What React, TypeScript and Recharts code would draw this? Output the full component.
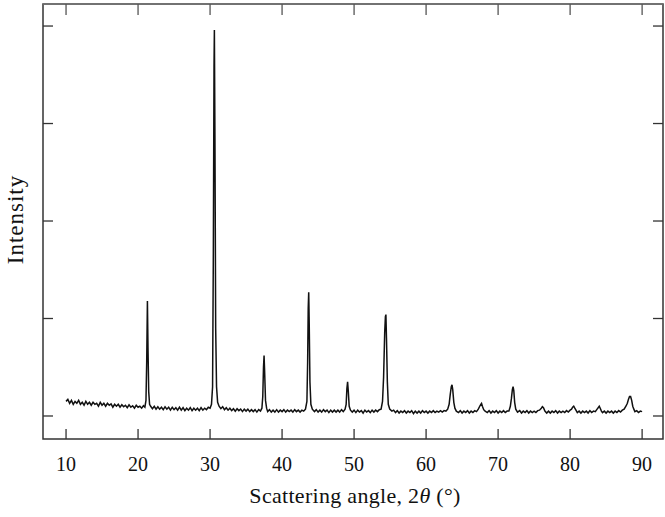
import { Label, Line, LineChart, ReferenceArea, ReferenceLine, XAxis, YAxis } from "recharts";

// XRD scan: [2θ in degrees, intensity in tick units]
const pattern: [number, number][] = [
  [10.0, 0.15], [10.25, 0.17], [10.5, 0.13], [10.75, 0.16], [11.0, 0.12], [11.25, 0.15], [11.5, 0.13], [11.75, 0.16],
  [12.0, 0.12], [12.25, 0.14], [12.5, 0.11], [12.75, 0.15], [13.0, 0.12], [13.25, 0.14], [13.5, 0.11], [13.75, 0.14],
  [14.0, 0.12], [14.25, 0.13], [14.5, 0.1], [14.75, 0.14], [15.0, 0.11], [15.25, 0.13], [15.5, 0.1], [15.75, 0.13],
  [16.0, 0.11], [16.25, 0.125], [16.5, 0.09], [16.75, 0.12], [17.0, 0.1], [17.25, 0.12], [17.5, 0.09], [17.75, 0.115],
  [18.0, 0.095], [18.25, 0.11], [18.5, 0.085], [18.75, 0.115], [19.0, 0.09], [19.25, 0.105], [19.5, 0.08], [19.75, 0.11],
  [20.0, 0.09], [20.25, 0.1], [20.5, 0.08], [20.75, 0.105],
  [20.95, 0.09], [21.1, 0.16], [21.2, 0.55], [21.3, 1.18], [21.38, 0.7], [21.48, 0.25], [21.6, 0.12], [21.75, 0.1],
  [22.0, 0.075], [22.25, 0.1], [22.5, 0.07], [22.75, 0.095], [23.0, 0.07], [23.25, 0.09], [23.5, 0.065], [23.75, 0.095],
  [24.0, 0.07], [24.25, 0.09], [24.5, 0.06], [24.75, 0.09], [25.0, 0.065], [25.25, 0.085], [25.5, 0.06], [25.75, 0.09],
  [26.0, 0.06], [26.25, 0.085], [26.5, 0.055], [26.75, 0.08], [27.0, 0.06], [27.25, 0.085], [27.5, 0.055], [27.75, 0.08],
  [28.0, 0.06], [28.25, 0.08], [28.5, 0.055], [28.75, 0.085], [29.0, 0.06], [29.25, 0.08], [29.5, 0.065], [29.75, 0.09],
  [30.0, 0.08], [30.2, 0.12],
  [30.35, 0.3], [30.45, 1.6], [30.55, 3.6], [30.6, 3.96], [30.68, 2.8], [30.78, 0.9], [30.9, 0.3], [31.05, 0.14], [31.25, 0.1],
  [31.5, 0.075], [31.75, 0.095], [32.0, 0.065], [32.25, 0.085], [32.5, 0.06], [32.75, 0.08], [33.0, 0.055], [33.25, 0.075],
  [33.5, 0.05], [33.75, 0.075], [34.0, 0.055], [34.25, 0.07], [34.5, 0.045], [34.75, 0.07], [35.0, 0.05], [35.25, 0.07],
  [35.5, 0.045], [35.75, 0.065], [36.0, 0.045], [36.25, 0.065], [36.5, 0.04], [36.75, 0.065], [37.0, 0.05], [37.2, 0.08],
  [37.32, 0.2], [37.42, 0.5], [37.5, 0.62], [37.58, 0.45], [37.7, 0.16], [37.85, 0.08],
  [38.0, 0.045], [38.25, 0.065], [38.5, 0.04], [38.75, 0.06], [39.0, 0.04], [39.25, 0.065], [39.5, 0.04], [39.75, 0.06],
  [40.0, 0.045], [40.25, 0.065], [40.5, 0.04], [40.75, 0.06], [41.0, 0.045], [41.25, 0.06], [41.5, 0.04], [41.75, 0.065],
  [42.0, 0.045], [42.25, 0.06], [42.5, 0.04], [42.75, 0.06], [43.0, 0.05], [43.25, 0.07], [43.45, 0.15],
  [43.55, 0.55], [43.63, 1.1], [43.7, 1.27], [43.77, 0.95], [43.87, 0.35], [44.0, 0.12], [44.2, 0.07],
  [44.5, 0.045], [44.75, 0.065], [45.0, 0.04], [45.25, 0.06], [45.5, 0.04], [45.75, 0.065], [46.0, 0.045], [46.25, 0.06],
  [46.5, 0.035], [46.75, 0.06], [47.0, 0.04], [47.25, 0.06], [47.5, 0.04], [47.75, 0.06], [48.0, 0.04], [48.25, 0.065],
  [48.5, 0.045], [48.75, 0.07],
  [48.9, 0.12], [49.0, 0.28], [49.1, 0.35], [49.2, 0.25], [49.32, 0.1], [49.5, 0.06],
  [49.75, 0.04], [50.0, 0.06], [50.25, 0.035], [50.5, 0.06], [50.75, 0.04], [51.0, 0.055], [51.25, 0.03], [51.5, 0.06],
  [51.75, 0.04], [52.0, 0.055], [52.25, 0.035], [52.5, 0.06], [52.75, 0.04], [53.0, 0.06], [53.25, 0.045], [53.5, 0.065],
  [53.75, 0.07], [53.95, 0.15],
  [54.1, 0.4], [54.25, 0.85], [54.35, 1.02], [54.42, 1.04], [54.5, 0.8], [54.62, 0.35], [54.75, 0.12], [54.95, 0.07],
  [55.25, 0.05], [55.5, 0.06], [55.75, 0.035], [56.0, 0.055], [56.25, 0.03], [56.5, 0.05], [56.75, 0.035], [57.0, 0.055],
  [57.25, 0.03], [57.5, 0.05], [57.75, 0.035], [58.0, 0.055], [58.25, 0.025], [58.5, 0.05], [58.75, 0.03], [59.0, 0.05],
  [59.25, 0.03], [59.5, 0.055], [59.75, 0.035], [60.0, 0.05], [60.25, 0.03], [60.5, 0.05], [60.75, 0.035], [61.0, 0.055],
  [61.25, 0.035], [61.5, 0.05], [61.75, 0.04], [62.0, 0.055], [62.25, 0.04], [62.5, 0.055], [62.75, 0.05], [63.0, 0.07],
  [63.2, 0.12],
  [63.35, 0.22], [63.5, 0.3], [63.6, 0.32], [63.7, 0.27], [63.85, 0.14], [64.0, 0.08], [64.2, 0.05],
  [64.5, 0.035], [64.75, 0.055], [65.0, 0.03], [65.25, 0.05], [65.5, 0.035], [65.75, 0.055], [66.0, 0.03], [66.25, 0.05],
  [66.5, 0.035], [66.75, 0.055], [67.0, 0.045], [67.25, 0.07], [67.45, 0.1],
  [67.6, 0.12], [67.7, 0.13], [67.82, 0.1], [68.0, 0.065], [68.2, 0.05],
  [68.5, 0.035], [68.75, 0.055], [69.0, 0.03], [69.25, 0.05], [69.5, 0.035], [69.75, 0.055], [70.0, 0.03], [70.25, 0.05],
  [70.5, 0.035], [70.75, 0.055], [71.0, 0.035], [71.25, 0.05], [71.5, 0.05], [71.7, 0.1],
  [71.85, 0.18], [71.98, 0.27], [72.08, 0.3], [72.18, 0.26], [72.3, 0.14], [72.45, 0.07],
  [72.7, 0.04], [73.0, 0.055], [73.25, 0.03], [73.5, 0.05], [73.75, 0.035], [74.0, 0.055], [74.25, 0.03], [74.5, 0.05],
  [74.75, 0.035], [75.0, 0.05], [75.25, 0.035], [75.5, 0.055], [75.75, 0.06],
  [76.0, 0.08], [76.15, 0.095], [76.3, 0.085], [76.5, 0.05],
  [76.75, 0.03], [77.0, 0.05], [77.25, 0.03], [77.5, 0.05], [77.75, 0.035], [78.0, 0.055], [78.25, 0.03], [78.5, 0.05],
  [78.75, 0.035], [79.0, 0.05], [79.25, 0.035], [79.5, 0.055], [79.75, 0.04], [80.0, 0.06], [80.2, 0.07],
  [80.35, 0.09], [80.5, 0.1], [80.65, 0.08], [80.85, 0.055],
  [81.0, 0.035], [81.25, 0.05], [81.5, 0.03], [81.75, 0.05], [82.0, 0.035], [82.25, 0.05], [82.5, 0.03], [82.75, 0.055],
  [83.0, 0.035], [83.25, 0.05], [83.5, 0.045], [83.75, 0.07],
  [83.95, 0.09], [84.05, 0.1], [84.18, 0.08], [84.35, 0.05],
  [84.5, 0.035], [84.75, 0.05], [85.0, 0.03], [85.25, 0.05], [85.5, 0.035], [85.75, 0.05], [86.0, 0.03], [86.25, 0.05],
  [86.5, 0.035], [86.75, 0.055], [87.0, 0.04], [87.25, 0.06], [87.5, 0.07], [87.75, 0.1],
  [87.95, 0.13], [88.1, 0.17], [88.25, 0.2], [88.4, 0.2], [88.55, 0.16], [88.7, 0.1], [88.85, 0.07],
  [89.0, 0.045], [89.25, 0.055], [89.5, 0.035], [89.75, 0.05], [90.0, 0.045],
];

const angleTicks = [10, 20, 30, 40, 50, 60, 70, 80, 90];
const intensityTicks = [0, 1, 2, 3, 4];

const data = pattern.map(([angle, intensity]) => ({ angle, intensity }));

const xDomain = [6.8, 92.9];
const yDomain = [-0.236, 4.226];
const font = '"Liberation Serif", "Times New Roman", serif';
const axisColor = "#333";
const tickLen = 10;

const BottomTick = (props: any) => {
  const { x, y, payload } = props;
  return (
    <g>
      <line x1={x} y1={y} x2={x} y2={y - tickLen} stroke={axisColor} strokeWidth={1.3} />
      <text x={x} y={y + 32} textAnchor="middle" fontFamily={font} fontSize={20} fill="#111">
        {payload.value}
      </text>
    </g>
  );
};

const TopTick = (props: any) => {
  const { x, y } = props;
  return <line x1={x} y1={y} x2={x} y2={y + tickLen + 1} stroke="#555" strokeWidth={1.3} />;
};

const LeftTick = (props: any) => {
  const { x, y } = props;
  return <line x1={x} y1={y} x2={x + tickLen} y2={y} stroke={axisColor} strokeWidth={1.3} />;
};

const RightTick = (props: any) => {
  const { x, y } = props;
  return <line x1={x} y1={y} x2={x - tickLen} y2={y} stroke={axisColor} strokeWidth={1.3} />;
};

const YTitle = (props: any) => {
  const { viewBox } = props;
  const cx = viewBox.x + 15;
  const cy = viewBox.y + viewBox.height / 2 - 2;
  return (
    <text x={cx} y={cy} transform={`rotate(-90 ${cx} ${cy})`} textAnchor="middle" dominantBaseline="central" fontFamily={font} fontSize={23} letterSpacing={1} fill="#111">
      Intensity
    </text>
  );
};

const XTitle = (props: any) => {
  const { viewBox } = props;
  const cx = viewBox.x + viewBox.width / 2 + 2;
  return (
    <text x={cx} y={viewBox.y + 64} textAnchor="middle" fontFamily={font} fontSize={22} letterSpacing={0.3} fill="#111">
      Scattering angle, 2<tspan fontStyle="italic">θ</tspan> (°)
    </text>
  );
};

export default function App() {
  return (
    <div style={{ position: "absolute", left: 0, top: 0, width: 665, height: 517, background: "#fff" }}>
      <LineChart width={665} height={517} data={data} margin={{ top: 3, right: 0, bottom: 11, left: 0 }}>
        <XAxis
          xAxisId="bottom"
          dataKey="angle"
          type="number"
          domain={xDomain}
          ticks={angleTicks}
          allowDataOverflow
          height={67}
          tickSize={0}
          tickMargin={0}
          tickLine={false}
          axisLine={false}
          tick={<BottomTick />}
          interval={0}
        >
          <Label content={<XTitle />} />
        </XAxis>
        <XAxis
          xAxisId="top"
          orientation="top"
          dataKey="angle"
          type="number"
          domain={xDomain}
          ticks={angleTicks}
          allowDataOverflow
          height={1}
          tickSize={0}
          tickMargin={0}
          tickLine={false}
          axisLine={false}
          tick={<TopTick />}
          interval={0}
        />
        <YAxis
          yAxisId="left"
          type="number"
          domain={yDomain}
          ticks={intensityTicks}
          allowDataOverflow
          width={43}
          tickSize={0}
          tickMargin={0}
          tickLine={false}
          axisLine={false}
          tick={<LeftTick />}
          interval={0}
        >
          <Label content={<YTitle />} />
        </YAxis>
        <YAxis
          yAxisId="right"
          orientation="right"
          type="number"
          domain={yDomain}
          ticks={intensityTicks}
          allowDataOverflow
          width={2}
          tickSize={0}
          tickMargin={0}
          tickLine={false}
          axisLine={false}
          tick={<RightTick />}
          interval={0}
        />
        <ReferenceArea
          xAxisId="bottom"
          yAxisId="left"
          x1={xDomain[0]}
          x2={xDomain[1]}
          y1={yDomain[0]}
          y2={yDomain[1]}
          ifOverflow="visible"
          fill="none"
          fillOpacity={0}
          stroke={axisColor}
          strokeWidth={1.5}
        />
        <ReferenceLine xAxisId="bottom" yAxisId="left" y={yDomain[1]} ifOverflow="visible" stroke="#777" strokeWidth={1.6} />
        <Line
          xAxisId="bottom"
          yAxisId="left"
          dataKey="intensity"
          type="linear"
          stroke="#111"
          strokeWidth={1.5}
          dot={false}
          isAnimationActive={false}
        />
      </LineChart>
    </div>
  );
}
